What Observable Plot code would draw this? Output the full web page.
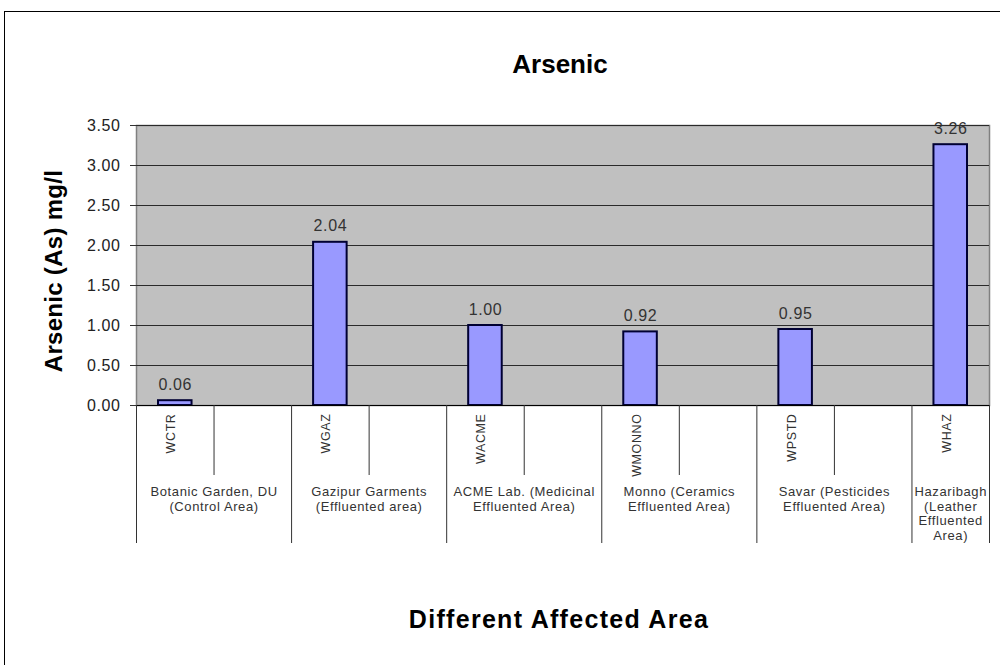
<!DOCTYPE html>
<html>
<head>
<meta charset="utf-8">
<script src="https://cdn.jsdelivr.net/npm/d3@7"></script>
<script src="https://cdn.jsdelivr.net/npm/@observablehq/plot@0.6"></script>
<style>
  html, body { margin: 0; padding: 0; background: #fff; overflow: hidden; }
  body { font-family: "Liberation Sans", Arial, sans-serif; }
  #wrap { position: relative; width: 1000px; height: 665px; overflow: hidden; background: #fff; }
  #border { position: absolute; left: 4px; top: 11px; right: 0; bottom: 0; border-left: 1px solid #000; border-top: 1px solid #000; }
  #chart { position: absolute; left: 0; top: 0; }
  .title { position: absolute; font-weight: bold; color: #000; white-space: nowrap; line-height: 1; }
  #title { left: 0; width: 1120px; text-align: center; top: 51px; font-size: 26px; }
  #xtitle { left: 0; width: 1118px; text-align: center; top: 607px; font-size: 25px; letter-spacing: 1.3px; }
  #ytitle { left: 54px; top: 271px; font-size: 24px; letter-spacing: 0.3px; transform: translate(-50%, -50%) rotate(-90deg); }
  #chart text { letter-spacing: 0.6px; }
</style>
</head>
<body>
<div id="wrap">
  <div id="border"></div>
  <div id="chart"></div>
  <div class="title" id="title">Arsenic</div>
  <div class="title" id="ytitle">Arsenic (As) mg/l</div>
  <div class="title" id="xtitle">Different Affected Area</div>
</div>
<script>
// ---- data ----
const codes = ["WCTR", "WGAZ", "WACME", "WMONNO", "WPSTD", "WHAZ"];
const values = [0.06, 2.04, 1.00, 0.92, 0.95, 3.26];
const groupLabels = [
  "Botanic Garden, DU\n(Control Area)",
  "Gazipur Garments\n(Effluented area)",
  "ACME Lab. (Medicinal\nEffluented Area)",
  "Monno (Ceramics\nEffluented Area)",
  "Savar (Pesticides\nEffluented Area)",
  "Hazaribagh\n(Leather\nEffluented\nArea)"
];
const yTicks = [0, 0.5, 1.0, 1.5, 2.0, 2.5, 3.0, 3.5];

// ---- derived table (each group: a labelled slot + an empty slot, last group one slot) ----
const slotCount = codes.length * 2 - 1;
const data = codes.map((c, i) => {
  const start = 2 * i;
  const end = Math.min(2 * i + 2, slotCount);
  return { code: c, value: values[i], group: groupLabels[i], s0: start, s1: start + 1, center: (start + end) / 2 };
});
const groupBounds = [...data.map(d => d.s0), slotCount];
const innerBounds = data.filter(d => d.s0 + 2 <= slotCount).map(d => d.s1);

const fmt = d3.format(".2f");

const chart = Plot.plot({
  width: 1000,
  height: 665,
  marginLeft: 136,
  marginRight: 11,
  marginTop: 125,
  marginBottom: 260,
  style: { fontFamily: "'Liberation Sans', Arial, sans-serif", background: "transparent", overflow: "visible" },
  x: { type: "linear", domain: [0, slotCount], axis: null, label: null },
  y: { domain: [0, 3.5], axis: null, label: null },
  marks: [
    Plot.frame({ fill: "#c0c0c0", stroke: "#808080", strokeWidth: 1.5 }),
    Plot.gridY(yTicks.slice(1), { stroke: "#2a2a2a", strokeOpacity: 1, strokeWidth: 1.2 }),
    Plot.rectY(data, {
      x1: "s0", x2: "s1", y: "value",
      insetLeft: 22, insetRight: 22,
      fill: "#9999ff", stroke: "#000033", strokeWidth: 2
    }),
    Plot.text(data, {
      x: d => d.s0 + 0.5, y: "value", text: d => fmt(d.value),
      lineAnchor: "bottom", dy: -11, fontSize: 16, fill: "#333"
    }),
    Plot.ruleY([0], { stroke: "#000", strokeWidth: 1.2 }),
    Plot.axisY({
      ticks: yTicks, tickFormat: fmt, tickSize: 6, tickPadding: 10,
      fontSize: 16, color: "#222", stroke: "#333", label: null
    }),
    // tick lines below the axis: group boundaries and inner slot boundaries
    Plot.axisX({ ticks: groupBounds, tickSize: 138, tickFormat: () => "", stroke: "#333", label: null }),
    Plot.axisX({ ticks: innerBounds, tickSize: 70, tickFormat: () => "", stroke: "#333", label: null }),
    // rotated sample codes
    Plot.text(data, {
      x: d => d.s0 + 0.5, frameAnchor: "bottom", dy: 8, rotate: -90,
      textAnchor: "end", text: "code", fontSize: 12.5, fill: "#333"
    }),
    // group labels
    Plot.text(data, {
      x: "center", frameAnchor: "bottom", dy: 80, lineAnchor: "top",
      text: "group", fontSize: 13, lineHeight: 1.13, fill: "#333"
    })
  ]
});
document.getElementById("chart").appendChild(chart);
</script>
</body>
</html>
